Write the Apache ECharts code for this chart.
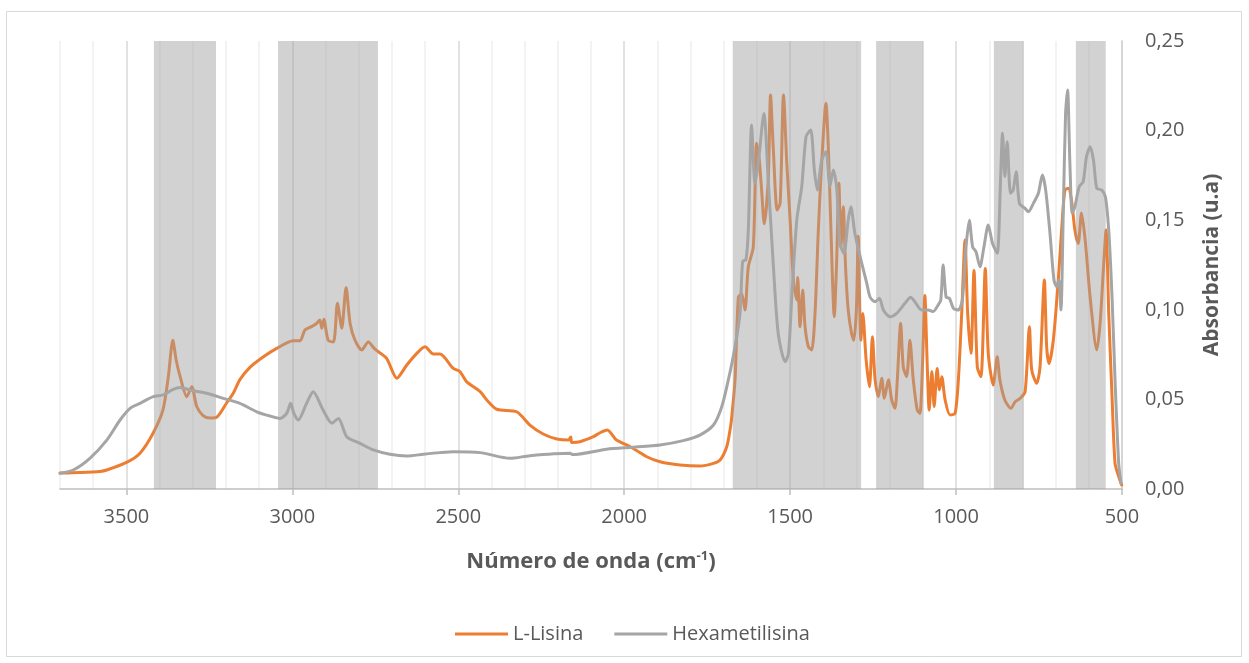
<!DOCTYPE html>
<html>
<head>
<meta charset="utf-8">
<title>Espectros FTIR</title>
<script src="https://cdn.jsdelivr.net/npm/echarts@6/dist/echarts.min.js"></script>
<style>
  html, body { margin: 0; padding: 0; background: #ffffff; }
  #chart { width: 1249px; height: 663px; }
</style>
</head>
<body>
<div id="chart"></div>
<script>
// Número de onda (cm-1) y absorbancia de cada espectro
const lisinaWn = [3700, 3640, 3579, 3559, 3498, 3459, 3420, 3390, 3374, 3360, 3350, 3338, 3318, 3303, 3288, 3269, 3248, 3228, 3198, 3178, 3158, 3127, 3087, 3047, 2997, 2977, 2962, 2942, 2926, 2917, 2911, 2905, 2892, 2876, 2864, 2851, 2838, 2826, 2811, 2791, 2771, 2751, 2716, 2685, 2655, 2625, 2600, 2575, 2555, 2515, 2495, 2475, 2434, 2414, 2384, 2324, 2284, 2244, 2203, 2168, 2161, 2158, 2133, 2093, 2073, 2051, 2023, 1982, 1932, 1892, 1832, 1772, 1731, 1711, 1691, 1681, 1676, 1666, 1656, 1646, 1636, 1626, 1611, 1601, 1593, 1586, 1578, 1566, 1559, 1551, 1539, 1530, 1520, 1510, 1500, 1490, 1480, 1477, 1470, 1462, 1455, 1445, 1435, 1425, 1415, 1405, 1392, 1385, 1377, 1367, 1360, 1353, 1347, 1340, 1333, 1325, 1315, 1308, 1300, 1295, 1287, 1281, 1271, 1261, 1252, 1244, 1234, 1224, 1216, 1204, 1194, 1184, 1177, 1167, 1159, 1149, 1139, 1129, 1117, 1109, 1101, 1094, 1087, 1081, 1073, 1066, 1057, 1050, 1043, 1033, 1018, 1003, 993, 983, 973, 965, 955, 946, 936, 925, 912, 903, 888, 876, 868, 853, 835, 822, 807, 792, 779, 772, 757, 747, 734, 727, 720, 707, 692, 682, 672, 662, 652, 642, 632, 622, 611, 596, 576, 566, 555, 548, 540, 530, 521, 510, 501];
const lisinaAbs = [0.0089, 0.0092, 0.0098, 0.0106, 0.015, 0.020, 0.031, 0.044, 0.062, 0.083, 0.072, 0.0627, 0.0515, 0.057, 0.046, 0.041, 0.0396, 0.040, 0.048, 0.0534, 0.061, 0.068, 0.0738, 0.0785, 0.0827, 0.0827, 0.0887, 0.0906, 0.0925, 0.0943, 0.0897, 0.0947, 0.083, 0.082, 0.1036, 0.0897, 0.1125, 0.0925, 0.083, 0.0776, 0.082, 0.078, 0.0729, 0.0618, 0.0692, 0.0757, 0.0794, 0.0753, 0.0753, 0.0673, 0.0655, 0.0599, 0.0543, 0.0497, 0.0445, 0.0431, 0.0357, 0.0307, 0.0279, 0.0273, 0.029, 0.026, 0.0264, 0.0292, 0.0314, 0.0329, 0.0273, 0.0236, 0.018, 0.0152, 0.0134, 0.0128, 0.0143, 0.0162, 0.0236, 0.033, 0.040, 0.061, 0.107, 0.109, 0.0999, 0.124, 0.135, 0.193, 0.1836, 0.167, 0.148, 0.1724, 0.2198, 0.191, 0.1557, 0.1596, 0.2198, 0.1817, 0.150, 0.1166, 0.1055, 0.118, 0.0906, 0.111, 0.0906, 0.0794, 0.0776, 0.098, 0.1445, 0.1817, 0.2152, 0.191, 0.1445, 0.0961, 0.126, 0.1706, 0.135, 0.1575, 0.124, 0.0999, 0.0869, 0.083, 0.1017, 0.141, 0.083, 0.098, 0.072, 0.057, 0.085, 0.061, 0.0515, 0.0618, 0.0506, 0.061, 0.0497, 0.045, 0.061, 0.0925, 0.068, 0.0627, 0.083, 0.061, 0.0441, 0.0422, 0.070, 0.108, 0.070, 0.0441, 0.0655, 0.046, 0.0673, 0.0553, 0.0627, 0.0497, 0.0413, 0.0422, 0.061, 0.098, 0.139, 0.098, 0.0757, 0.122, 0.068, 0.0627, 0.123, 0.0757, 0.058, 0.0738, 0.061, 0.0497, 0.045, 0.0487, 0.0506, 0.0543, 0.0906, 0.0664, 0.059, 0.068, 0.1166, 0.0794, 0.070, 0.083, 0.1166, 0.1445, 0.1668, 0.1678, 0.161, 0.1445, 0.137, 0.154, 0.139, 0.107, 0.0776, 0.0925, 0.126, 0.1445, 0.098, 0.0515, 0.0143, 0.0069, 0.0022];

const hexaWn = [3700, 3660, 3610, 3559, 3519, 3489, 3459, 3419, 3389, 3359, 3338, 3308, 3258, 3208, 3158, 3107, 3067, 3037, 3017, 3005, 2995, 2982, 2957, 2937, 2907, 2881, 2861, 2836, 2796, 2756, 2706, 2655, 2605, 2555, 2515, 2434, 2344, 2284, 2163, 2155, 2053, 1973, 1892, 1822, 1772, 1731, 1706, 1686, 1666, 1651, 1643, 1633, 1626, 1616, 1606, 1596, 1579, 1566, 1551, 1536, 1515, 1505, 1495, 1480, 1465, 1452, 1438, 1427, 1418, 1405, 1392, 1380, 1370, 1360, 1350, 1338, 1325, 1317, 1305, 1289, 1269, 1259, 1244, 1231, 1219, 1199, 1179, 1154, 1137, 1124, 1104, 1084, 1069, 1054, 1046, 1039, 1030, 1020, 1008, 993, 981, 970, 960, 950, 940, 928, 916, 903, 890, 876, 866, 860, 853, 846, 836, 828, 819, 809, 792, 782, 767, 752, 740, 730, 717, 705, 697, 690, 684, 677, 670, 664, 657, 650, 642, 629, 617, 607, 596, 586, 576, 561, 550, 540, 530, 521, 510, 503];
const hexaAbs = [0.0088, 0.0106, 0.0171, 0.0273, 0.0385, 0.045, 0.0478, 0.0515, 0.0525, 0.0556, 0.0567, 0.0552, 0.0534, 0.0506, 0.0478, 0.0431, 0.0407, 0.0394, 0.0422, 0.0478, 0.042, 0.0385, 0.0478, 0.0543, 0.044, 0.0367, 0.0394, 0.0292, 0.0255, 0.0218, 0.0194, 0.0184, 0.0194, 0.0203, 0.0208, 0.0203, 0.0171, 0.0186, 0.0199, 0.0192, 0.0222, 0.0233, 0.0246, 0.027, 0.0301, 0.0357, 0.0459, 0.061, 0.0794, 0.098, 0.127, 0.128, 0.1445, 0.2031, 0.1706, 0.1817, 0.2096, 0.1724, 0.126, 0.0869, 0.071, 0.0757, 0.107, 0.150, 0.1687, 0.1966, 0.2003, 0.178, 0.1668, 0.1836, 0.1882, 0.1687, 0.178, 0.1687, 0.137, 0.1315, 0.150, 0.1575, 0.1427, 0.1296, 0.1148, 0.107, 0.1045, 0.1064, 0.0999, 0.0961, 0.098, 0.1036, 0.107, 0.1045, 0.0999, 0.0999, 0.099, 0.1027, 0.1055, 0.125, 0.107, 0.1064, 0.1008, 0.0999, 0.1055, 0.135, 0.150, 0.135, 0.1324, 0.124, 0.135, 0.1473, 0.137, 0.1315, 0.1724, 0.1985, 0.1743, 0.1938, 0.165, 0.1668, 0.177, 0.1594, 0.1566, 0.1547, 0.1594, 0.165, 0.1752, 0.1668, 0.1427, 0.1166, 0.1129, 0.1166, 0.0999, 0.154, 0.2096, 0.2226, 0.1817, 0.154, 0.1575, 0.1687, 0.1715, 0.1855, 0.191, 0.1836, 0.1678, 0.1668, 0.1631, 0.1445, 0.107, 0.061, 0.0143, 0.0032];

// Regiones resaltadas [desde, hasta] en cm-1
const bands = [[3417, 3230], [3043, 2742], [1673, 1286], [1241, 1098], [886, 796], [639, 549]];

const xTicks = [500, 1000, 1500, 2000, 2500, 3000, 3500];
const yTicks = [0, 0.05, 0.10, 0.15, 0.20, 0.25];

const zip = (a, b) => a.map((v, i) => [v, b[i]]);

const textColor = '#595959';
const fontFamily = '"Open Sans", "Liberation Sans", sans-serif';

const chart = echarts.init(document.getElementById('chart'), null, { renderer: 'canvas' });

chart.setOption({
  backgroundColor: '#ffffff',
  animation: false,
  textStyle: { fontFamily: fontFamily, color: textColor },
  graphic: [{
    type: 'rect',
    shape: { x: 6.5, y: 11.5, width: 1235, height: 645 },
    style: { fill: 'none', stroke: '#d9d9d9', lineWidth: 1 },
    silent: true,
    z: -10
  }],
  grid: { left: 60, right: 127, top: 41, bottom: 174, containLabel: false },
  legend: {
    bottom: 14,
    left: 450,
    icon: 'rect',
    itemWidth: 53,
    itemHeight: 3,
    itemGap: 31,
    textStyle: { fontSize: 20, color: textColor, fontFamily: fontFamily },
    data: ['L-Lisina', 'Hexametilisina']
  },
  xAxis: [
    {
      // eje principal: etiquetas, marcas y líneas de división cada 500 cm-1
      type: 'value',
      inverse: true,
      min: 500,
      max: 3700,
      interval: 100,
      z: 1,
      name: '{b|Número de onda (cm}{s|-1}{b|)}',
      nameLocation: 'middle',
      nameGap: 61,
      nameTextStyle: {
        rich: {
          b: { fontSize: 22, fontWeight: 'bold', color: textColor, fontFamily: fontFamily },
          s: { fontSize: 13, fontWeight: 'bold', color: textColor, fontFamily: fontFamily, padding: [0, 0, 10, 0] }
        }
      },
      axisLine: { show: true, lineStyle: { color: '#bfbfbf', width: 1.5 } },
      axisTick: { show: true, length: 6, lineStyle: { color: '#bfbfbf', width: 1.5 }, customValues: xTicks },
      axisLabel: {
        customValues: xTicks,
        fontSize: 20,
        color: textColor,
        margin: 18,
        fontFamily: fontFamily,
        formatter: v => String(v)
      },
      splitLine: { show: true, lineStyle: { color: '#d9d9d9', width: 1.5 } }
    },
    {
      // líneas de división secundarias cada 100 cm-1
      type: 'value',
      inverse: true,
      min: 500,
      max: 3700,
      interval: 100,
      z: 0,
      axisLine: { show: false },
      axisTick: { show: false },
      axisLabel: { show: false },
      splitLine: {
        show: true,
        lineStyle: { color: ['rgba(0,0,0,0)', '#efefef', '#efefef', '#efefef', '#efefef'], width: 1.5 }
      }
    }
  ],
  yAxis: {
    type: 'value',
    position: 'right',
    min: 0,
    max: 0.25,
    interval: 0.05,
    name: 'Absorbancia (u.a)',
    nameLocation: 'middle',
    nameGap: 80,
    nameRotate: 90,
    nameTextStyle: { fontSize: 21, fontWeight: 'bold', color: textColor, fontFamily: fontFamily },
    axisLine: { show: true, lineStyle: { color: '#bfbfbf', width: 1.5 } },
    axisTick: { show: false },
    splitLine: { show: false },
    axisLabel: {
      customValues: yTicks,
      fontSize: 20,
      color: textColor,
      margin: 23,
      fontFamily: fontFamily,
      formatter: v => v.toFixed(2).replace('.', ',')
    }
  },
  series: [
    {
      name: 'L-Lisina',
      type: 'line',
      z: 1,
      data: zip(lisinaWn, lisinaAbs),
      showSymbol: false,
      smooth: 0.25,
      color: '#ed7d31',
      lineStyle: { color: '#ed7d31', width: 3, cap: 'round', join: 'round' }
    },
    {
      name: 'Bandas',
      type: 'custom',
      z: 2,
      silent: true,
      data: bands,
      encode: { x: [0, 1] },
      renderItem: function (params, api) {
        const a = api.coord([api.value(0), 0.25]);
        const b = api.coord([api.value(1), 0]);
        return {
          type: 'rect',
          shape: {
            x: Math.min(a[0], b[0]),
            y: a[1],
            width: Math.abs(b[0] - a[0]),
            height: b[1] - a[1]
          },
          style: { fill: 'rgba(160,160,160,0.47)' }
        };
      }
    },
    {
      name: 'Hexametilisina',
      type: 'line',
      z: 3,
      data: zip(hexaWn, hexaAbs),
      showSymbol: false,
      smooth: 0.25,
      color: '#a5a5a5',
      lineStyle: { color: '#a5a5a5', width: 3, cap: 'round', join: 'round' }
    }
  ]
});
</script>
</body>
</html>
